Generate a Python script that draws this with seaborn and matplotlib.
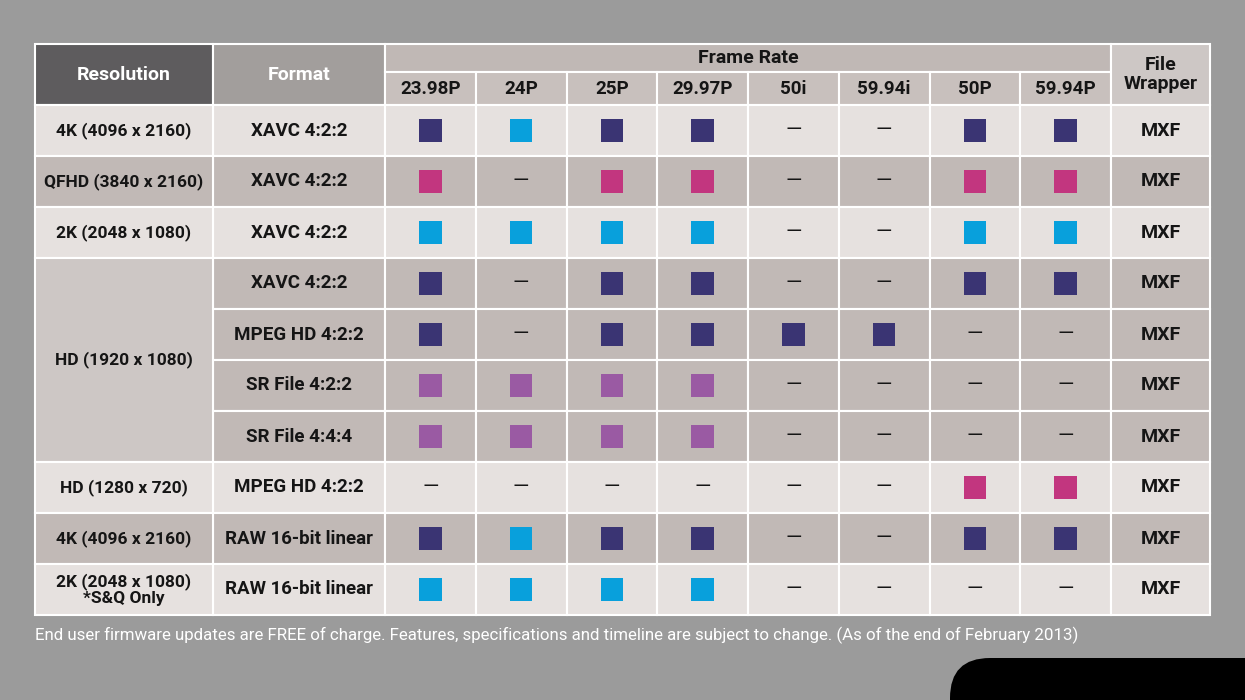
import pandas as pd
import seaborn as sns
import matplotlib.pyplot as plt
from matplotlib.patches import Rectangle, FancyBboxPatch

# ----------------- data
frame_rates = ["23.98P", "24P", "25P", "29.97P", "50i", "59.94i", "50P", "59.94P"]
formats = ["XAVC 4:2:2", "XAVC 4:2:2", "XAVC 4:2:2", "XAVC 4:2:2", "MPEG HD 4:2:2",
           "SR File 4:2:2", "SR File 4:4:4", "MPEG HD 4:2:2",
           "RAW 16-bit linear", "RAW 16-bit linear"]
resolutions = [("4K (4096 x 2160)", 0, 1), ("QFHD (3840 x 2160)", 1, 1),
               ("2K (2048 x 1080)", 2, 1), ("HD (1920 x 1080)", 3, 4),
               ("HD (1280 x 720)", 7, 1), ("4K (4096 x 2160)", 8, 1),
               ("2K (2048 x 1080)\n*S&Q Only", 9, 1)]
wrapper = ["MXF"] * 10
# N = navy, C = cyan, M = magenta, P = purple, - = not supported
support = [
    "NCNN--NN",
    "M-MM--MM",
    "CCCC--CC",
    "N-NN--NN",
    "N-NNNN--",
    "PPPP----",
    "PPPP----",
    "------MM",
    "NCNN--NN",
    "CCCC----",
]
palette = {"N": "#3a3473", "C": "#08a0dc", "M": "#c2367f", "P": "#9a5aa3"}

# ----------------- layout
col_w = [178, 172] + [90.75] * 8 + [99]
x0, y_top, h_head1, h_head2, row_h = 35, 44, 28, 33, 51
dark_rows = {1, 3, 4, 5, 6, 8}
light_bg, dark_bg, res_hd_bg = "#e6e1df", "#c1b9b6", "#cdc7c5"

sns.set_theme(style="white")
plt.rcParams["font.family"] = ["Roboto", "DejaVu Sans"]
fig = plt.figure(figsize=(12.45, 7), dpi=100)
fig.patch.set_facecolor("#9b9b9b")
ax = fig.add_axes([0, 0, 1, 1])

xs = [x0]
for w in col_w:
    xs.append(xs[-1] + w)
y_rows = y_top + h_head1 + h_head2


def cell(x, y, w, h, fc, text="", color="#151515", size=13, weight="bold", **kw):
    ax.add_patch(Rectangle((x, y), w, h, facecolor=fc, edgecolor="white", lw=1.5))
    if text:
        ax.text(x + w / 2, y + h / 2, text, ha="center", va="center",
                color=color, fontsize=size, fontweight=weight, **kw)


# header
hh = h_head1 + h_head2
cell(xs[0], y_top, col_w[0], hh, "#5e5c5e", "Resolution", color="white", size=14)
cell(xs[1], y_top, col_w[1], hh, "#a29e9c", "Format", color="white", size=14)
cell(xs[2], y_top, xs[10] - xs[2], h_head1, "#c0b8b5", "Frame Rate", size=14)
for i, fr in enumerate(frame_rates):
    cell(xs[2 + i], y_top + h_head1, col_w[2 + i], h_head2, "#c8c0bd", fr, size=13.5)
cell(xs[10], y_top, col_w[10], hh, "#cdc7c5", "File\nWrapper", size=14, linespacing=1.05)

# body
for r in range(len(formats)):
    y = y_rows + r * row_h
    bg = dark_bg if r in dark_rows else light_bg
    cell(xs[1], y, col_w[1], row_h, bg, formats[r], size=13.5)
    for c in range(8):
        cell(xs[2 + c], y, col_w[2 + c], row_h, bg)
        if support[r][c] == "-":
            ax.text(xs[2 + c] + col_w[2 + c] / 2, y + row_h / 2, "—", ha="center",
                    va="center", fontsize=15, color="#151515")
    cell(xs[10], y, col_w[10], row_h, bg, wrapper[r], size=14)

for name, start, span in resolutions:
    y = y_rows + start * row_h
    bg = res_hd_bg if span > 1 else (dark_bg if start in dark_rows else light_bg)
    cell(xs[0], y, col_w[0], row_h * span, bg, name, size=12.5, linespacing=1.05)

# marks
pts = pd.DataFrame([
    {"x": xs[2 + c] + col_w[2 + c] / 2, "y": y_rows + r * row_h + row_h / 2, "code": s}
    for r, row in enumerate(support) for c, s in enumerate(row) if s != "-"
])
sns.scatterplot(data=pts, x="x", y="y", hue="code", palette=palette, marker="s",
                s=260, linewidth=0, legend=False, ax=ax, zorder=5)
ax.set_xlim(0, 1245)
ax.set_ylim(700, 0)
ax.axis("off")

ax.text(35, 635, "End user firmware updates are FREE of charge. Features, specifications "
        "and timeline are subject to change. (As of the end of February 2013)",
        ha="left", va="center", color="white", fontsize=12.2)
ax.add_patch(FancyBboxPatch((950, 658), 400, 100, boxstyle="round,pad=0,rounding_size=40",
                            facecolor="black", edgecolor="none"))

fig.savefig("out.png", dpi=100, facecolor=fig.get_facecolor())
